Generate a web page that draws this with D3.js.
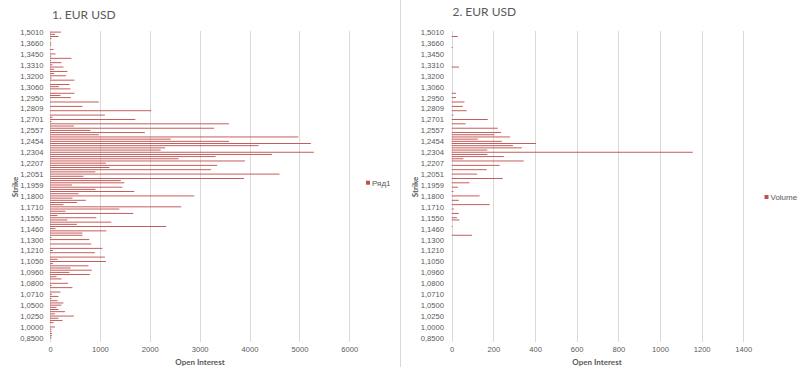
<!DOCTYPE html>
<html><head><meta charset="utf-8">
<script src="https://cdn.jsdelivr.net/npm/d3@7"></script>
<style>
body{margin:0;background:#fff;}
svg{display:block;font-family:"Liberation Sans",Arial,sans-serif;}
</style></head><body>
<svg id="c" width="800" height="367"></svg>
<script>
// Strike labels shown on the category axis (every 5th category), top to bottom
const strikeLabels = ["1,5010","1,3660","1,3450","1,3310","1,3200","1,3060","1,2950","1,2809","1,2701","1,2557",
  "1,2454","1,2304","1,2207","1,2051","1,1959","1,1800","1,1710","1,1550","1,1460","1,1300",
  "1,1210","1,1050","1,0960","1,0800","1,0710","1,0500","1,0250","1,0000","0,8500"];

// Open interest per strike category, top (1,5010) to bottom (0,8500)
const openInterest = [
  220,100,170,30,0, 27,25,0,70,0, 110,25,430,20,230, 50,270,80,350,80,
  320,30,490,0,390, 180,410,0,490,210, 420,0,980,0,650, 0,2030,0,1100,50,
  1710,30,3590,480,3290, 810,1900,980,4980,2420, 3590,5230,4180,2310,2220, 5290,4450,3320,2580,3910,
  1120,3350,1190,3230,910, 4600,670,3890,1420,1490, 440,1450,910,1690,570, 2890,450,720,540,270,
  2630,1390,310,1670,150, 930,350,1230,540,2330, 110,1130,650,650,30, 790,0,830,0,1050,
  60,900,0,1100,150, 1120,60,770,410,840, 390,800,130,230,0, 360,30,450,0,210,
  40,170,30,150,270, 230,130,170,300,100, 480,170,250,70,0, 100,30,30,40,40, 30];

// Volume per strike category, same order
const volume = [
  0,0,29,0,0, 0,0,5,0,0, 0,0,0,0,0, 0,35,0,0,0,
  0,0,0,0,0, 0,0,0,21,0, 21,0,61,0,53, 0,72,0,8,0,
  173,0,67,0,221, 0,237,205,280,125, 240,405,294,337,171, 1157,171,250,56,346,
  0,230,0,168,0, 122,0,245,0,85, 0,30,0,8,0, 134,0,34,0,182,
  0,10,0,34,0, 25,37,0,0,4, 0,0,0,97,0, 0,0,0,0,0,
  0,0,0,0,0, 0,0,0,0,0, 0,0,0,0,0, 0,0,0,0,0,
  0,0,0,0,0, 0,0,0,0,0, 0,0,0,0,0, 0,0,0,0,0, 0];

const oiTicks = [0,1000,2000,3000,4000,5000,6000];
const volTicks = [0,200,400,600,800,1000,1200,1400];

const panels = [
  {title:"1. EUR USD", values:openInterest, ticks:oiTicks, max:6000, x0:50, x1:349.3,
   titleX:52, titleY:18.5, legend:"Ряд1", legX:366, legY:182.7, axisTitleX:200, strikeX:15, labelEnd:43.5},
  {title:"2. EUR USD", values:volume, ticks:volTicks, max:1400, x0:451.7, x1:743.3,
   titleX:452.5, titleY:15.5, legend:"Volume", legX:764.5, legY:197, axisTitleX:597, strikeX:415, labelEnd:444}
];

const svg = d3.select("#c");
const grey = "#595959";
const barColor = "#c0504d";
const yTop = 32.1, yBot = 337.9, gridTop = 31, gridBot = 342;

// separator between the two chart objects
svg.append("line").attr("x1",400.5).attr("x2",400.5).attr("y1",0).attr("y2",367)
  .attr("stroke","#d9d9d9").attr("stroke-width",1);

panels.forEach(p => {
  const g = svg.append("g");
  const n = p.values.length;
  const y = d3.scalePoint().domain(d3.range(n)).range([yTop, yBot]);
  const x = d3.scaleLinear().domain([0, p.max]).range([p.x0, p.x1]);
  const bh = y.step() * 0.42;

  // gridlines
  g.selectAll("line.grid").data(p.ticks).join("line").attr("class","grid")
    .attr("x1", d => Math.round(x(d)) + 0.5).attr("x2", d => Math.round(x(d)) + 0.5)
    .attr("y1", gridTop).attr("y2", gridBot)
    .attr("stroke", "#d9d9d9").attr("stroke-width", 1);

  // bars
  g.selectAll("rect.bar").data(p.values.map((v,i)=>({v,i})).filter(d=>d.v>0)).join("rect")
    .attr("class","bar")
    .attr("x", x(0)).attr("y", d => y(d.i) - bh/2)
    .attr("width", d => x(d.v) - x(0)).attr("height", bh)
    .attr("fill", barColor);

  // y axis
  const yAxis = d3.axisLeft(y)
    .tickValues(d3.range(0, n, 5))
    .tickFormat(i => strikeLabels[i/5])
    .tickSize(0).tickPadding(p.x0 - p.labelEnd);
  const ya = g.append("g").attr("transform", `translate(${p.x0},0)`).call(yAxis);
  ya.select(".domain").remove();
  ya.selectAll("text").attr("fill", grey).attr("font-size", "7.6px")
    .attr("font-family", "Liberation Sans, Arial, sans-serif");

  // x axis
  const xAxis = d3.axisBottom(x).tickValues(p.ticks).tickFormat(d3.format("d")).tickSize(0).tickPadding(6);
  const xa = g.append("g").attr("transform", `translate(0,${gridBot-1})`).call(xAxis);
  xa.select(".domain").remove();
  xa.selectAll("text").attr("fill", grey).attr("font-size", "7.6px")
    .attr("font-family", "Liberation Sans, Arial, sans-serif");

  // title
  g.append("text").attr("x", p.titleX).attr("y", p.titleY).text(p.title)
    .attr("fill", grey).attr("font-size", "12px").attr("font-family", "Lato, sans-serif");

  // axis titles
  g.append("text").attr("x", p.axisTitleX).attr("y", 365).attr("text-anchor","middle")
    .text("Open Interest").attr("fill", grey).attr("font-size","8px").attr("font-weight","bold")
    .attr("font-family","Lato, sans-serif");
  g.append("text").attr("transform", `translate(${p.strikeX + 3},187) rotate(-90)`)
    .attr("text-anchor","middle").text("Strike").attr("fill", grey)
    .attr("font-size","8px").attr("font-weight","bold").attr("font-family","Lato, sans-serif");

  // legend
  g.append("rect").attr("x", p.legX).attr("y", p.legY - 2).attr("width", 4).attr("height", 4)
    .attr("fill", barColor);
  g.append("text").attr("x", p.legX + 6).attr("y", p.legY + 3).text(p.legend)
    .attr("fill", grey).attr("font-size","8px").attr("font-family","Liberation Sans, Arial, sans-serif");
});
</script>
</body></html>
